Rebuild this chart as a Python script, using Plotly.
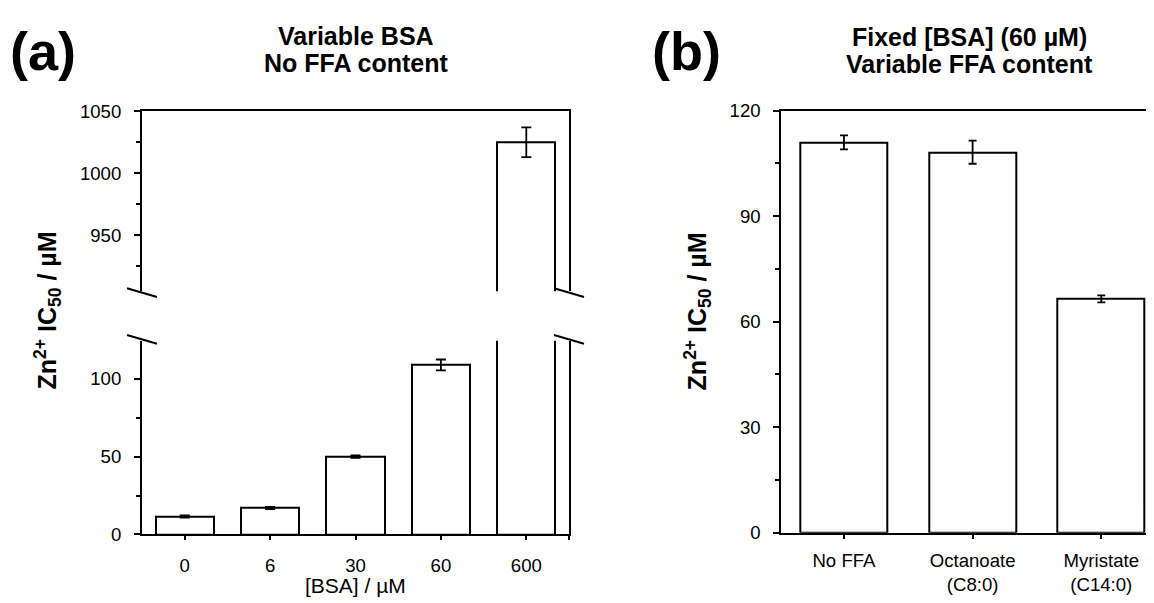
import plotly.graph_objects as go

# ---------------- data ----------------
bsa_labels = ["0", "6", "30", "60", "600"]
bsa_ic50 = [11.5, 17.0, 50.0, 109.0, 1025.0]
bsa_err = [0.7, 0.7, 0.8, 3.5, 12.0]

ffa_labels = ["No FFA", "Octanoate<br>(C8:0)", "Myristate<br>(C14:0)"]
ffa_ic50 = [111.0, 108.2, 66.5]
ffa_err = [2.0, 3.3, 1.0]

# ---------------- layout geometry (pixels) ----------------
W, H = 1154, 603
PA_X0, PA_X1 = 134, 561
PA_TOP_Y0, PA_TOP_Y1 = 96.5, 283
PA_BOT_Y0, PA_BOT_Y1 = 334.5, 535
PB_X0, PB_X1 = 773.3, 1154
PB_Y0, PB_Y1 = 96, 533.3

FONT = "Arial, Liberation Sans, sans-serif"
TICK = 18.6
TITLE = 25


def dx(a, b):
    return [a / W, min(b / W, 1.0)]


def dy(top, bottom):
    return [1 - bottom / H, 1 - top / H]


xa = list(range(len(bsa_labels)))
xb = list(range(len(ffa_labels)))

fig = go.Figure()

bar_style = dict(marker=dict(color="white", line=dict(color="black", width=2)),
                 showlegend=False, hoverinfo="skip")

# panel (a) lower segment
fig.add_trace(go.Bar(x=xa, y=bsa_ic50, width=0.68, xaxis="x", yaxis="y",
                     error_y=dict(type="data", array=bsa_err, color="black",
                                  thickness=1.8, width=5),
                     **bar_style))
# panel (a) upper segment
fig.add_trace(go.Bar(x=xa, y=bsa_ic50, width=0.68, xaxis="x2", yaxis="y2",
                     error_y=dict(type="data", array=bsa_err, color="black",
                                  thickness=1.8, width=5),
                     **bar_style))
# panel (b)
fig.add_trace(go.Bar(x=xb, y=ffa_ic50, width=0.676, xaxis="x3", yaxis="y3",
                     error_y=dict(type="data", array=ffa_err, color="black",
                                  thickness=1.8, width=4),
                     **bar_style))

axis_common = dict(showgrid=False, zeroline=False, linecolor="black", linewidth=2,
                   tickcolor="black", tickwidth=2,
                   tickfont=dict(family=FONT, size=TICK, color="black"))

n_a = len(bsa_labels)
n_b = len(ffa_labels)
fig.update_layout(
    width=W, height=H,
    margin=dict(l=0, r=0, t=0, b=0),
    paper_bgcolor="white", plot_bgcolor="white",
    bargap=0,
    xaxis=dict(domain=dx(PA_X0, PA_X1), anchor="y", range=[-0.5, n_a - 0.5],
               tickvals=xa + [n_a - 0.5], ticktext=bsa_labels + [""],
               ticks="outside", ticklen=4, showline=True, mirror=False,
               ticklabelstandoff=9, **axis_common),
    yaxis=dict(domain=dy(PA_BOT_Y0, PA_BOT_Y1), anchor="x", range=[0, 124.5],
               tick0=0, dtick=50, ticks="outside", ticklen=6, showline=True,
               mirror=True, ticklabelstandoff=9,
               minor=dict(dtick=25, ticks="outside", ticklen=4, tickcolor="black",
                          tickwidth=2),
               **axis_common),
    xaxis2=dict(domain=dx(PA_X0, PA_X1), anchor="y2", range=[-0.5, n_a - 0.5],
                side="top", showticklabels=False, ticks="", showline=True,
                **axis_common),
    yaxis2=dict(domain=dy(PA_TOP_Y0, PA_TOP_Y1), anchor="x2", range=[905, 1050],
                tick0=0, dtick=50, ticks="outside", ticklen=6, showline=True,
                mirror=True, ticklabelstandoff=9,
                minor=dict(dtick=25, ticks="outside", ticklen=4, tickcolor="black",
                           tickwidth=2),
                **axis_common),
    xaxis3=dict(domain=dx(PB_X0, PB_X1), anchor="y3", range=[-0.487, 2.472],
                tickvals=xb, ticktext=ffa_labels, ticks="outside", ticklen=4,
                showline=True, mirror=True, ticklabelstandoff=6, **axis_common),
    yaxis3=dict(domain=dy(PB_Y0, PB_Y1), anchor="x3", range=[0, 120],
                tick0=0, dtick=30, ticks="outside", ticklen=6, showline=True,
                mirror=False, ticklabelstandoff=9,
                minor=dict(dtick=15, ticks="outside", ticklen=4, tickcolor="black",
                           tickwidth=2),
                **axis_common),
)

# ---------------- axis break marks ----------------
shapes = []
for xe in (PA_X0, PA_X1):
    for ye in (PA_TOP_Y1 + 1.5, PA_BOT_Y0 - 1.5):
        shapes.append(dict(type="line", xref="paper", yref="paper",
                           x0=(xe - 15) / W, x1=(xe + 15) / W,
                           y0=1 - (ye - 4.5) / H, y1=1 - (ye + 4.5) / H,
                           line=dict(color="black", width=2)))
fig.update_layout(shapes=shapes)

# ---------------- texts ----------------
def ann(text, x, y, size, angle=0, bold=True):
    t = f"<b>{text}</b>" if bold else text
    fig.add_annotation(text=t, x=x / W, y=1 - y / H, xref="paper", yref="paper",
                       xanchor="center", yanchor="middle", showarrow=False,
                       textangle=angle,
                       font=dict(family=FONT, size=size, color="black"))

ann("(a)", 35, 34, 54)
ann("(b)", 678, 34, 54)
ann("Variable BSA", 348, 18.5, TITLE)
ann("No FFA content", 348, 47, TITLE)
ann("Fixed [BSA] (60 µM)", 961.7, 19.3, TITLE)
ann("Variable FFA content", 961.7, 48, TITLE)
ytitle = "Zn<sup>2+</sup> IC<sub>50</sub> / µM"
ann(ytitle, 40, 303, TITLE, angle=-90)
ann(ytitle, 690, 304, TITLE, angle=-90)
ann("[BSA] / µM", 347.5, 588, 21, bold=False)

fig.write_html("out.html")
